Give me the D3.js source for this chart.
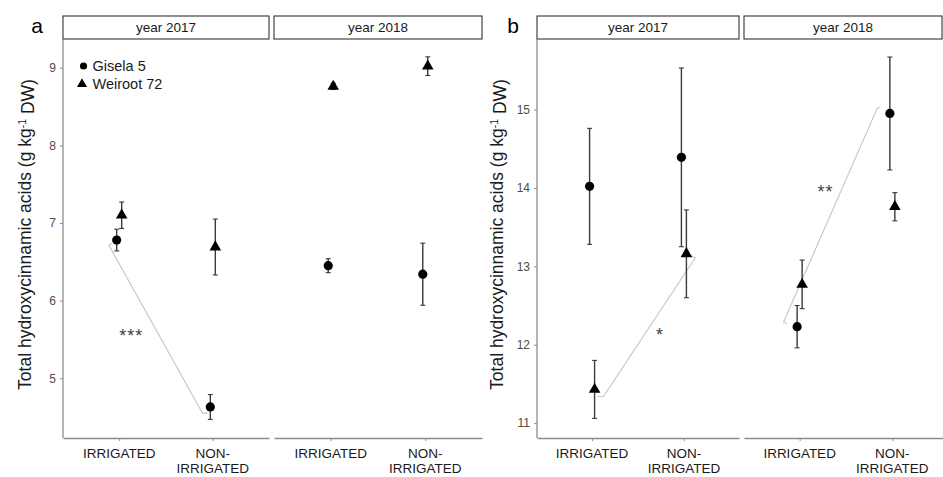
<!DOCTYPE html>
<html>
<head>
<meta charset="utf-8">
<script src="https://cdn.jsdelivr.net/npm/d3@7"></script>
<style>
  body { margin: 0; background: #fff; }
  text { font-family: "Liberation Sans", Arial, sans-serif; }
</style>
</head>
<body>
<div class="chart"></div>
<script>
// categories
const years = ["year 2017", "year 2018"];
const treatments = ["IRRIGATED", "NON-IRRIGATED"];
const rootstocks = ["Gisela 5", "Weiroot 72"];

// panel a: [year][treatment]
const aGisela = [[6.78, 4.63], [6.45, 6.34]];
const aGiselaErr = [[0.14, 0.16], [0.09, 0.40]];
const aWeiroot = [[7.10, 6.69], [8.76, 9.02]];
const aWeirootErr = [[0.17, 0.36], [0.04, 0.12]];
const aTicks = [5, 6, 7, 8, 9];

// panel b: [year][treatment]
const bGisela = [[14.02, 14.39], [12.23, 14.95]];
const bGiselaErr = [[0.74, 1.14], [0.27, 0.72]];
const bWeiroot = [[11.43, 13.16], [12.77, 13.76]];
const bWeirootErr = [[0.37, 0.56], [0.31, 0.18]];
const bTicks = [11, 12, 13, 14, 15];

// significance brackets: points as [treatment index, value]
const aBrackets = [
  { year: 0, pts: [[-0.074, 6.74], [-0.109, 6.71], [0.89, 4.55], [0.943, 4.55]], label: "***", at: [0.13, 5.61] }
];
const bBrackets = [
  { year: 0, pts: [[0.058, 11.34], [0.124, 11.34], [1.124, 13.11], [1.069, 13.14]], label: "*", at: [0.74, 12.18] },
  { year: 1, pts: [[-0.137, 12.27], [-0.173, 12.29], [0.834, 15.01], [0.863, 15.03]], label: "**", at: [0.28, 14.01] }
];

const width = 943, height = 477;
const plotTop = 39, plotBottom = 438, stripTop = 16;

const svg = d3.select(".chart").append("svg")
  .attr("width", width)
  .attr("height", height);

const figures = [
  { letter: "a", letterX: 37, labelX: 25, facets: [[63, 269], [274, 482]], domain: [4.23, 9.37], ticks: aTicks,
    gisela: aGisela, giselaErr: aGiselaErr, weiroot: aWeiroot, weirootErr: aWeirootErr, brackets: aBrackets, legend: true },
  { letter: "b", letterX: 513, labelX: 497, facets: [[537, 739], [744, 948]], domain: [10.81, 15.90], ticks: bTicks,
    gisela: bGisela, giselaErr: bGiselaErr, weiroot: bWeiroot, weirootErr: bWeirootErr, brackets: bBrackets, legend: false }
];

const triangle = d3.symbol().type(d3.symbolTriangle);

figures.forEach(fig => {
  const g = svg.append("g");
  const y = d3.scaleLinear().domain(fig.domain).range([plotBottom, plotTop]);

  // panel letter
  g.append("text")
    .attr("x", fig.letterX).attr("y", 33)
    .attr("text-anchor", "middle")
    .style("font-size", "21px")
    .text(fig.letter);

  // y axis title
  const yt = g.append("text")
    .attr("transform", `translate(${fig.labelX},${(plotTop + plotBottom) / 2 - 4}) rotate(-90)`)
    .attr("text-anchor", "middle")
    .attr("dy", "0.35em")
    .style("font-size", "17.5px")
    .style("fill", "#1a1a1a");
  yt.append("tspan").text("Total hydroxycinnamic acids (g kg");
  yt.append("tspan").attr("dy", "-0.45em").style("font-size", "10.5px").text("-1");
  yt.append("tspan").attr("dy", "0.45em").text(" DW)");

  fig.facets.forEach((ext, yi) => {
    const x = d3.scalePoint().domain(treatments).range(ext).padding(0.6);
    const xpos = i => x(treatments[0]) + i * x.step();
    const fg = g.append("g");

    // strip
    const stripRight = Math.min(ext[1], width - 1);
    fg.append("rect")
      .attr("x", ext[0]).attr("y", stripTop)
      .attr("width", stripRight - ext[0]).attr("height", plotTop - stripTop)
      .attr("fill", "#fff").attr("stroke", "#333").attr("stroke-width", 1.1);
    fg.append("text")
      .attr("x", (ext[0] + stripRight) / 2).attr("y", (stripTop + plotTop) / 2)
      .attr("dy", "0.35em").attr("text-anchor", "middle")
      .style("font-size", "13.5px").style("fill", "#1a1a1a")
      .text(years[yi]);

    // bottom axis
    const xa = fg.append("g")
      .attr("transform", `translate(0,${plotBottom})`)
      .call(d3.axisBottom(x).tickSize(3).tickSizeOuter(0).tickFormat(""));
    xa.select(".domain").attr("stroke", "#8c8c8c").attr("stroke-width", 1.3);
    xa.selectAll(".tick line").attr("stroke", "#8c8c8c");
    treatments.forEach(t => {
      const lines = t === "NON-IRRIGATED" ? ["NON-", "IRRIGATED"] : [t];
      const txt = fg.append("text")
        .attr("x", x(t)).attr("y", plotBottom + 20)
        .attr("text-anchor", "middle")
        .style("font-size", "13.5px").style("fill", "#1a1a1a");
      lines.forEach((l, li) => txt.append("tspan").attr("x", x(t)).attr("dy", li ? "1.1em" : 0).text(l));
    });

    // left axis on first facet
    if (yi === 0) {
      const ya = fg.append("g")
        .attr("transform", `translate(${ext[0]},0)`)
        .call(d3.axisLeft(y).tickValues(fig.ticks).tickFormat(d3.format("d"))
          .tickSize(3).tickSizeOuter(0).tickPadding(4));
      ya.select(".domain").attr("stroke", "#8c8c8c").attr("stroke-width", 1.3)
        .attr("d", `M0,${plotTop}V${plotBottom}`);
      ya.selectAll(".tick line").attr("stroke", "#8c8c8c");
      ya.selectAll(".tick text").style("font-size", "12px").style("fill", "#4d4d4d")
        .style("font-family", "'Liberation Sans', Arial, sans-serif");
    }

    // brackets
    fig.brackets.filter(b => b.year === yi).forEach(b => {
      fg.append("path")
        .attr("d", d3.line().x(p => xpos(p[0])).y(p => y(p[1]))(b.pts))
        .attr("fill", "none").attr("stroke", "#c4c4c4").attr("stroke-width", 1.1);
      fg.append("text")
        .attr("x", xpos(b.at[0])).attr("y", y(b.at[1]))
        .attr("dy", "0.6em").attr("text-anchor", "middle")
        .style("font-size", "18px").style("fill", "#444")
        .style("letter-spacing", "1px")
        .text(b.label);
    });

    // points with error bars
    const series = [
      { vals: fig.gisela[yi], errs: fig.giselaErr[yi], shape: "circle", dx: -2.5 },
      { vals: fig.weiroot[yi], errs: fig.weirootErr[yi], shape: "triangle", dx: 2.5 }
    ];
    series.forEach(s => {
      treatments.forEach((t, ti) => {
        const cx = x(t) + s.dx;
        const v = s.vals[ti], e = s.errs[ti];
        fg.append("line")
          .attr("x1", cx).attr("x2", cx)
          .attr("y1", y(v - e)).attr("y2", y(v + e))
          .attr("stroke", "#3a3a3a").attr("stroke-width", 1.4);
        [v - e, v + e].forEach(c => fg.append("line")
          .attr("x1", cx - 2.5).attr("x2", cx + 2.5)
          .attr("y1", y(c)).attr("y2", y(c))
          .attr("stroke", "#3a3a3a").attr("stroke-width", 1.1));
      });
    });
    series.forEach(s => {
      treatments.forEach((t, ti) => {
        const cx = x(t) + s.dx;
        if (s.shape === "circle") {
          fg.append("circle").attr("cx", cx).attr("cy", y(s.vals[ti])).attr("r", 4.6).attr("fill", "#000");
        } else {
          fg.append("path").attr("d", triangle.size(58)())
            .attr("transform", `translate(${cx},${y(s.vals[ti])})`).attr("fill", "#000");
        }
      });
    });

    // legend
    if (fig.legend && yi === 0) {
      const lg = fg.append("g");
      rootstocks.forEach((r, ri) => {
        const ly = 66 + ri * 17.5;
        if (ri === 0) {
          lg.append("circle").attr("cx", 83.5).attr("cy", ly).attr("r", 3.6).attr("fill", "#000");
        } else {
          lg.append("path").attr("d", triangle.size(44)())
            .attr("transform", `translate(82,${ly + 0.5})`).attr("fill", "#000");
        }
        lg.append("text").attr("x", 92.5).attr("y", ly).attr("dy", "0.36em")
          .style("font-size", "14.5px").style("fill", "#1a1a1a").text(r);
      });
    }
  });
});
</script>
</body>
</html>
